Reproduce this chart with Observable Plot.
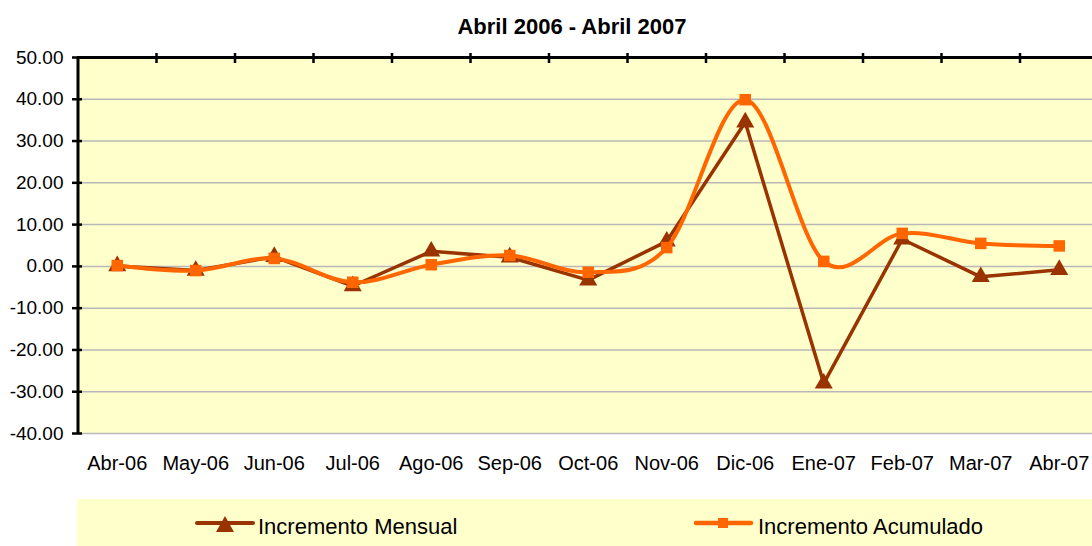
<!DOCTYPE html>
<html><head><meta charset="utf-8">
<script src="https://cdn.jsdelivr.net/npm/d3@7"></script>
<script src="https://cdn.jsdelivr.net/npm/@observablehq/plot@0.6"></script>
<style>
body{margin:0;background:#fff;font-family:"Liberation Sans",Arial,sans-serif;}
#wrap{position:relative;width:1092px;height:546px;overflow:hidden;background:#fff;}
#title{position:absolute;left:26px;top:16px;width:1092px;text-align:center;font-weight:bold;font-size:22px;line-height:22px;color:#000;}
#chart{position:absolute;left:0;top:45px;}
#legend{position:absolute;left:77px;top:499px;width:1015px;height:47px;background:#FFFFCC;}
</style>
</head>
<body>
<div id="wrap">
  <div id="title">Abril 2006 - Abril 2007</div>
  <div id="chart"></div>
  <div id="legend">
    <svg width="1015" height="47" style="font-family:'Liberation Sans',Arial,sans-serif;font-size:22px;">
      <line x1="120" y1="24" x2="176" y2="24" stroke="#993300" stroke-width="4" stroke-linecap="round"/>
      <polygon points="139,33 157,33 148,17" fill="#993300"/>
      <text x="181" y="35" fill="#000">Incremento Mensual</text>
      <line x1="619" y1="24" x2="674" y2="24" stroke="#FF6600" stroke-width="4.5" stroke-linecap="round"/>
      <rect x="641" y="19" width="10" height="10" fill="#FF6600"/>
      <text x="681" y="35" fill="#000">Incremento Acumulado</text>
    </svg>
  </div>
</div>
<script>
const months = ["Abr-06","May-06","Jun-06","Jul-06","Ago-06","Sep-06","Oct-06","Nov-06","Dic-06","Ene-07","Feb-07","Mar-07","Abr-07"];
const mensual = [0.1, -1.0, 2.3, -4.7, 3.6, 2.2, -3.3, 6.0, 34.5, -28.0, 6.5, -2.5, -0.8];
const acumulado = [0.2, -1.0, 1.9, -3.8, 0.4, 2.6, -1.4, 4.5, 39.9, 1.2, 7.9, 5.5, 4.9];
const yTicks = [50, 40, 30, 20, 10, 0, -10, -20, -30, -40];

const data = months.map((m, i) => ({i, m, mensual: mensual[i], acumulado: acumulado[i]}));
const bounds = d3.range(months.length - 1).map(i => i + 0.5);

const chart = Plot.plot({
  width: 1092, height: 440,
  marginLeft: 77, marginRight: 0, marginTop: 12, marginBottom: 52,
  style: {fontFamily: "'Liberation Sans', Arial, sans-serif", fontSize: "19px", color: "#000", background: "transparent", overflow: "visible"},
  x: {type: "linear", domain: [-0.5, months.length - 0.5], range: [77.5, 1098], label: null},
  y: {domain: [-40, 50], label: null},
  marks: [
    Plot.frame({fill: "#FFFFCC"}),
    Plot.ruleY(yTicks.filter(v => v < 50), {stroke: "#B8B8B8", strokeWidth: 1.5}),
    Plot.axisX({anchor: "bottom", label: null, ticks: d3.range(months.length), tickFormat: i => months[i], tickSize: 0, tickPadding: 22, fontSize: 20}),
    Plot.axisY({anchor: "left", label: null, ticks: yTicks, tickFormat: v => v.toFixed(2), tickSize: 0, tickPadding: 14}),
    Plot.axisY({anchor: "left", label: null, ticks: yTicks, tickFormat: () => "", tickSize: 10, dx: 5, stroke: "#000", strokeWidth: 2.5, strokeOpacity: 1}),
    Plot.axisX({anchor: "top", label: null, ticks: bounds, tickFormat: () => "", tickSize: 10, dy: 5, stroke: "#000", strokeWidth: 2.5, strokeOpacity: 1}),
    Plot.ruleX([-0.5], {stroke: "#000", strokeWidth: 3}),
    Plot.ruleY([50], {stroke: "#000", strokeWidth: 3}),
    Plot.line(data, {x: "i", y: "mensual", stroke: "#993300", strokeWidth: 3.5}),
    Plot.dot(data, {x: "i", y: "mensual", symbol: "triangle", r: 6.7, fill: "#993300"}),
    Plot.line(data, {x: "i", y: "acumulado", stroke: "#FF6600", strokeWidth: 4, curve: "cardinal"}),
    Plot.dot(data, {x: "i", y: "acumulado", symbol: "square", r: 6.5, fill: "#FF6600"})
  ]
});
document.getElementById("chart").appendChild(chart);
</script>
</body></html>
